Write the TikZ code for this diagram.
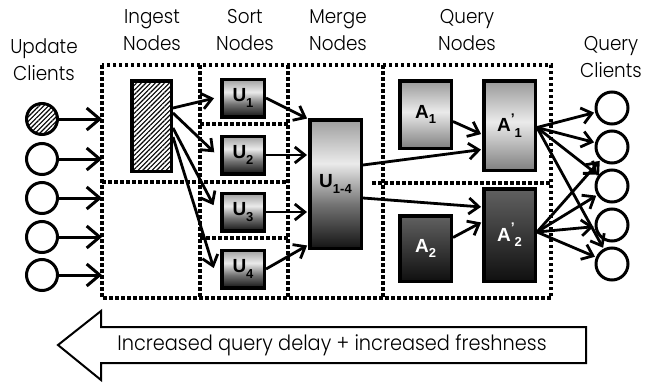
\documentclass[tikz,border=0pt]{standalone}
\usepackage{fontspec}
\IfFontExistsTF{Poppins Light}{\def\tfname{Poppins Light}}{\def\tfname{Poppins}}
\setmainfont{\tfname}
\newfontfamily\tfont{\tfname}[FakeStretch=0.92]
\setsansfont{Liberation Sans}
\usetikzlibrary{arrows.meta,patterns.meta}
\pgfdeclareverticalshading{ushade}{100bp}{color(0bp)=(black!92); color(25bp)=(black!92); color(42bp)=(black!55); color(58bp)=(black!8); color(75bp)=(black!38); color(100bp)=(black!38)}
\pgfdeclareverticalshading{alight}{100bp}{color(0bp)=(black!50); color(25bp)=(black!50); color(52bp)=(black!8); color(75bp)=(black!40); color(100bp)=(black!40)}
\pgfdeclareverticalshading{adark}{100bp}{color(0bp)=(black!94); color(25bp)=(black!94); color(75bp)=(black!62); color(100bp)=(black!62)}
\newcommand\lsub[1]{\raisebox{-0.3em}{\fontsize{13}{13}\selectfont #1}}
\newcommand\lpr{\raisebox{0.45em}{\fontsize{14}{14}\selectfont ’}}
\begin{document}
\begin{tikzpicture}[x=1pt,y=-1pt,
  tl/.style={font=\tfont\fontsize{20}{27}\selectfont, align=center, inner sep=0pt},
  box/.style={draw, line width=3.5pt, inner sep=0pt, font=\sffamily\bfseries\fontsize{19}{19}\selectfont},
  ubox/.style={box, shading=ushade, minimum width=42.5pt, minimum height=37.5pt},
  labox/.style={box, shading=alight, minimum width=51.5pt},
  dabox/.style={box, shading=adark, minimum width=51.5pt, text=white},
  hatch/.style={pattern={Lines[angle=45,distance=3.3pt,line width=1.1pt]}},
  frame/.style={line width=3.5pt, dash pattern=on 3.5pt off 2.5pt},
  conn/.style={line width=2.8pt, shorten >=1pt, -{Straight Barb[length=10pt,width=16pt]}},
  inconn/.style={line width=3pt, -{Straight Barb[length=13pt,width=22pt]}},
  client/.style={circle, draw, line width=3pt, minimum size=31pt, inner sep=0pt},
  qclient/.style={client, minimum size=32pt},
]
\useasboundingbox (0,0) rectangle (645,383);
% frames
\draw[frame] (102,65) rectangle (551,298);
\draw[frame] (200,65) -- (200,298);
\draw[frame] (288,65) -- (288,298);
\draw[frame] (383,65) -- (383,298);
\draw[frame] (102,182) -- (288,182);
\draw[frame] (200,124) -- (288,124);
\draw[frame] (200,238) -- (288,238);
\draw[frame] (372,183) -- (551,183);
% titles
\node[tl] (tUpd) at (44,60) {Update\\Clients};
\node[tl] (tIng) at (152,30) {Ingest\\Nodes};
\node[tl] (tSort) at (245,30) {Sort\\Nodes};
\node[tl] (tMerge) at (338,30) {Merge\\Nodes};
\node[tl] (tQry) at (467,30) {Query\\Nodes};
\node[tl] (tQC) at (611,57) {Query\\Clients};
% update clients
\node[client, hatch] (uc1) at (42,119) {};
\node[client] (uc2) at (42,159) {};
\node[client] (uc3) at (42,198) {};
\node[client] (uc4) at (42,237) {};
\node[client] (uc5) at (42,275) {};
\coordinate (in1) at (102,119);
\coordinate (in2) at (102,159);
\coordinate (in3) at (102,198);
\coordinate (in4) at (102,237);
\coordinate (in5) at (102,275);
% query clients
\node[qclient] (qc1) at (612,108) {};
\node[qclient] (qc2) at (612,147) {};
\node[qclient] (qc3) at (612,186) {};
\node[qclient] (qc4) at (612,225) {};
\node[qclient] (qc5) at (612,264) {};
% boxes
\node[box, hatch, minimum width=39.5pt, minimum height=90.5pt] (ing) at (151.5,126) {};
\node[ubox] (U1) at (243,98) {U\lsub{1}};
\node[ubox] (U2) at (243,155) {U\lsub{2}};
\node[ubox] (U3) at (243,212) {U\lsub{3}};
\node[ubox] (U4) at (243,269) {U\lsub{4}};
\node[box, shading=ushade, minimum width=51.5pt, minimum height=128.5pt] (U14) at (335.5,184) {U\lsub{1-4}};
\node[labox, minimum height=67.5pt] (A1) at (425.5,114.5) {A\lsub{1}};
\node[labox, minimum height=89.5pt] (A1p) at (509.5,125.5) {A\lpr\lsub{1}};
\node[dabox, minimum height=65.5pt] (A2) at (425.5,248.5) {A\lsub{2}};
\node[dabox, minimum height=92.5pt] (A2p) at (509.5,235) {A\lpr\lsub{2}};
% connectors: update clients
\foreach \i in {1,...,5} \draw[inconn] (uc\i) -- (in\i);
% ingest -> sort
\draw[conn] ([yshift=18pt]ing.east) -- ([xshift=-5pt]U1.west);
\draw[conn] ([yshift=13pt]ing.east) -- ([xshift=-5pt,yshift=2pt]U2.west);
\draw[conn] ([yshift=-2pt]ing.east) -- ([xshift=-6pt,yshift=6pt]U3.west);
\draw[conn] ([yshift=-11pt]ing.east) -- ([xshift=-6pt]U4.west);
% sort -> merge
\draw[conn] (U1.east) -- ([yshift=-1pt]U14.north west);
\draw[conn] (U2.east) -- (U2.east -| U14.west);
\draw[conn] (U3.east) -- (U3.east -| U14.west);
\draw[conn] (U4.east) -- ([yshift=5pt]U14.south west);
% merge -> query
\draw[conn] ([yshift=19pt]U14.east) -- ([yshift=-24pt]A1p.west);
\draw[conn] ([yshift=-14pt]U14.east) -- ([yshift=28pt]A2p.west);
\draw[conn] ([yshift=-7pt]A1.east) -- ([yshift=-9pt]A1p.west);
\draw[conn] ([yshift=11pt]A2.east) -- ([yshift=13pt]A2p.west);
% query -> clients
\foreach \j in {1,2,3,5} \draw[conn] ([yshift=-2pt]A1p.east) -- (qc\j);
\foreach \j in {2,3,4,5} \draw[conn] ([yshift=3pt]A2p.east) -- (qc\j);
% bottom arrow
\draw[line width=2pt, line join=miter] (586,327) -- (101,327) -- (101,311) -- (58,345) -- (101,380) -- (101,363) -- (586,363) -- cycle;
\node[font=\tfont\fontsize{21}{24}\selectfont, inner sep=0pt] (fresh) at (332,345) {Increased query delay + increased freshness};
\end{tikzpicture}
\end{document}
